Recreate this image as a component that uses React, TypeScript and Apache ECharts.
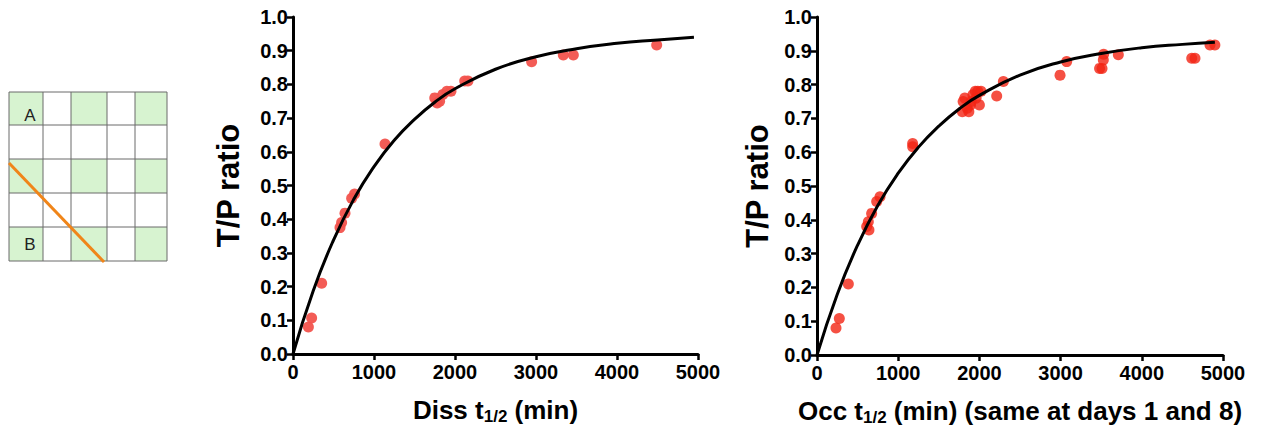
import React, { useEffect, useRef } from "react";
import * as echarts from "echarts";

// Left panel: Diss t1/2 vs T/P ratio
const dissPoints: [number, number][] = [
  [190, 0.08], [230, 0.107], [354, 0.21], [580, 0.375], [600, 0.39], [642, 0.418],
  [724, 0.462], [760, 0.475], [1136, 0.623], [1750, 0.76], [1780, 0.745], [1810, 0.75],
  [1850, 0.77], [1900, 0.78], [1950, 0.78], [2120, 0.81], [2160, 0.81], [2946, 0.867],
  [3337, 0.887], [3461, 0.887], [4490, 0.917],
];
const dissFitX = [0, 250, 500, 750, 1000, 1250, 1500, 1750, 2000, 2500, 3000, 3500, 4000, 4500, 4950];
const dissFitY = [0, 0.188, 0.338, 0.459, 0.556, 0.634, 0.696, 0.747, 0.787, 0.845, 0.882, 0.906, 0.922, 0.932, 0.94];

// Right panel: Occ t1/2 vs T/P ratio
const occPoints: [number, number][] = [
  [234, 0.08], [275, 0.108], [386, 0.21], [612, 0.38], [632, 0.394], [640, 0.37],
  [673, 0.419], [735, 0.454], [776, 0.468], [1178, 0.626], [1178, 0.616],
  [1790, 0.72], [1800, 0.75], [1820, 0.76], [1850, 0.73], [1870, 0.72], [1890, 0.74],
  [1900, 0.75], [1920, 0.77], [1950, 0.78], [1960, 0.76], [1980, 0.78], [2000, 0.74],
  [2020, 0.78], [2213, 0.766], [2295, 0.809], [2993, 0.828], [3075, 0.868],
  [3480, 0.848], [3510, 0.848], [3526, 0.873], [3530, 0.89], [3711, 0.888],
  [4615, 0.878], [4655, 0.878], [4840, 0.917], [4900, 0.917],
];
const occFitX = [0, 250, 500, 750, 1000, 1250, 1500, 1750, 2000, 2500, 3000, 3500, 4000, 4500, 4900];
const occFitY = [0, 0.18, 0.325, 0.443, 0.538, 0.615, 0.677, 0.728, 0.768, 0.828, 0.867, 0.892, 0.909, 0.919, 0.925];

const xTicks = [0, 1000, 2000, 3000, 4000, 5000];
const yTicks = [0, 0.1, 0.2, 0.3, 0.4, 0.5, 0.6, 0.7, 0.8, 0.9, 1.0];

const FONT = "'Liberation Sans', Arial, sans-serif";

// Grid diagram (decorative schematic)
const colEdges = [9, 43, 71, 107, 135, 167];
const rowEdges = [92, 125, 159, 193, 227, 261];
const greenCells: [number, number][] = [
  [0, 0], [0, 2], [0, 4], [2, 0], [2, 2], [2, 4], [4, 0], [4, 2], [4, 4],
];

function App() {
  const ref = useRef<HTMLDivElement>(null);
  useEffect(() => {
    if (!ref.current) return;
    const chart = echarts.init(ref.current, null, { renderer: "svg" });

    const graphics: any[] = [];
    greenCells.forEach(([r, c]) => {
      graphics.push({
        type: "rect",
        shape: { x: colEdges[c], y: rowEdges[r], width: colEdges[c + 1] - colEdges[c], height: rowEdges[r + 1] - rowEdges[r] },
        style: { fill: "#d7f3d0" },
      });
    });
    colEdges.forEach((x) => {
      graphics.push({ type: "line", shape: { x1: x, y1: rowEdges[0], x2: x, y2: rowEdges[5] }, style: { stroke: "#6b6b6b", lineWidth: 1 } });
    });
    rowEdges.forEach((y) => {
      graphics.push({ type: "line", shape: { x1: colEdges[0], y1: y, x2: colEdges[5], y2: y }, style: { stroke: "#6b6b6b", lineWidth: 1 } });
    });
    graphics.push({ type: "line", shape: { x1: 9, y1: 163, x2: 104, y2: 262 }, style: { stroke: "#f08519", lineWidth: 3 } });
    graphics.push({ type: "text", x: 30, y: 115, style: { text: "A", font: "17px " + FONT, fill: "#222", textAlign: "center", textVerticalAlign: "middle" } });
    graphics.push({ type: "text", x: 30, y: 244, style: { text: "B", font: "17px " + FONT, fill: "#222", textAlign: "center", textVerticalAlign: "middle" } });

    const axisLine = { show: true, onZero: false, lineStyle: { color: "#000", width: 3 } };
    const axisTick = { show: true, length: 6, lineStyle: { color: "#000", width: 2.5 } };
    const labelStyle = { color: "#000", fontSize: 20, fontWeight: "bold" as const, fontFamily: FONT };

    const makeX = (idx: number, name: string) => ({
      type: "value",
      gridIndex: idx,
      min: xTicks[0],
      max: xTicks[xTicks.length - 1],
      interval: 1000,
      axisLine,
      axisTick,
      splitLine: { show: false },
      axisLabel: { ...labelStyle, margin: 8, formatter: (v: number) => String(v) },
      name,
      nameLocation: "middle",
      nameGap: 41,
      nameTextStyle: {
        color: "#000",
        fontSize: 26,
        fontWeight: "bold",
        fontFamily: FONT,
        verticalAlign: "top",
        rich: {
          sub: { fontSize: 17, fontWeight: "bold", fontFamily: FONT, color: "#000", verticalAlign: "bottom", padding: [13, 0, 0, 0] },
        },
      },
    });
    const makeY = (idx: number, gap: number) => ({
      type: "value",
      gridIndex: idx,
      min: yTicks[0],
      max: yTicks[yTicks.length - 1],
      interval: 0.1,
      axisLine,
      axisTick,
      splitLine: { show: false },
      axisLabel: { ...labelStyle, margin: 5, formatter: (v: number) => v.toFixed(1) },
      name: "T/P ratio",
      nameLocation: "middle",
      nameGap: gap,
      nameTextStyle: { color: "#000", fontSize: 31, fontWeight: "bold", fontFamily: FONT },
    });

    chart.setOption({
      animation: false,
      backgroundColor: "#fff",
      graphic: graphics,
      grid: [
        { left: 293, top: 17, width: 405, height: 337, outerBoundsMode: "none", containLabel: false },
        { left: 817, top: 17, width: 406, height: 338, outerBoundsMode: "none", containLabel: false },
      ],
      xAxis: [
        makeX(0, "Diss t{sub|1/2} (min)"),
        makeX(1, "Occ t{sub|1/2} (min) (same at days 1 and 8)"),
      ],
      yAxis: [makeY(0, 49), makeY(1, 44)],
      series: [
        {
          type: "scatter",
          xAxisIndex: 0,
          yAxisIndex: 0,
          data: dissPoints,
          symbolSize: 11,
          itemStyle: { color: "#f2534d", opacity: 0.95 },
          z: 2,
        },
        {
          type: "line",
          xAxisIndex: 0,
          yAxisIndex: 0,
          data: dissFitX.map((x, i) => [x, dissFitY[i]]),
          smooth: true,
          showSymbol: false,
          lineStyle: { color: "#000", width: 3 },
          z: 3,
        },
        {
          type: "scatter",
          xAxisIndex: 1,
          yAxisIndex: 1,
          data: occPoints,
          symbolSize: 11,
          itemStyle: { color: "#f22414" },
          z: 2,
        },
        {
          type: "line",
          xAxisIndex: 1,
          yAxisIndex: 1,
          data: occFitX.map((x, i) => [x, occFitY[i]]),
          smooth: true,
          showSymbol: false,
          lineStyle: { color: "#000", width: 3 },
          z: 3,
        },
      ],
    });
    return () => chart.dispose();
  }, []);
  return (
    <div
      ref={ref}
      style={{ position: "absolute", left: 0, top: 0, width: 1261, height: 432, background: "#fff" }}
    />
  );
}

export default App;
